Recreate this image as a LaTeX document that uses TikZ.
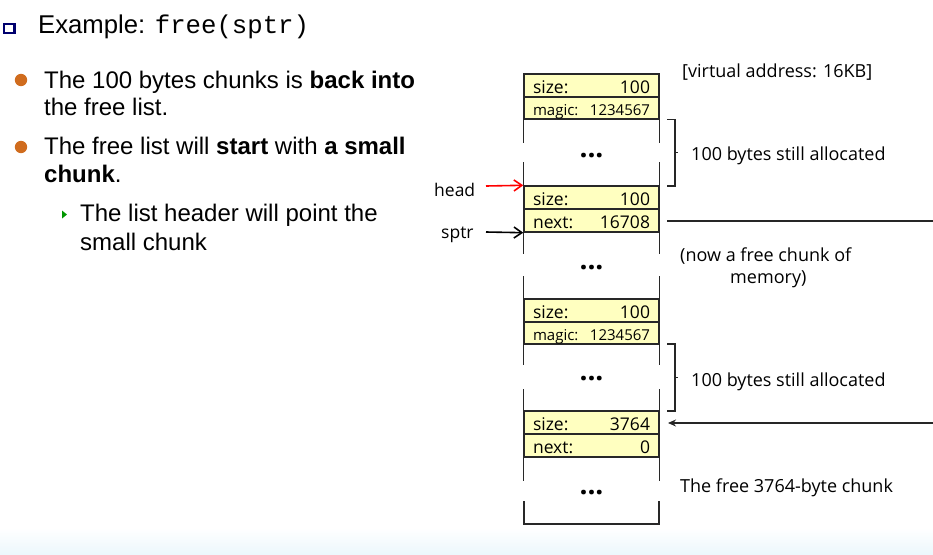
\documentclass[tikz,border=0pt]{standalone}
\usepackage{fontspec}
\setmainfont{Liberation Sans}
\setmonofont{Liberation Mono}
\newfontfamily\diagfont{Open Sans}
\usetikzlibrary{arrows.meta,shapes.geometric}
\definecolor{rowfill}{RGB}{255,255,192}
\definecolor{bulorange}{RGB}{208,108,30}
\definecolor{navysq}{RGB}{0,0,110}
\definecolor{trigreen}{RGB}{0,150,0}
\definecolor{boxline}{RGB}{40,40,40}
\definecolor{fadeblue}{RGB}{236,247,252}
\tikzset{
  x=1pt, y=-1pt,
  row/.style={draw=boxline, line width=1.4pt, fill=rowfill, minimum width=135pt,
    inner xsep=9pt, inner ysep=0pt, text width=117pt, minimum height=23pt,
    text height=16pt, text depth=1pt, font=\diagfont\fontsize{17.5}{18}\selectfont},
  magicrow/.style={row, minimum height=22pt, font=\diagfont\fontsize{15}{16}\selectfont},
  side/.style={draw=boxline, line width=1.4pt},
  brace/.style={draw=black!85, line width=1.6pt},
  note/.style={anchor=base west, inner sep=0pt, font=\diagfont\fontsize{18}{20}\selectfont},
  lbl/.style={anchor=base west, inner sep=0pt, font=\diagfont\fontsize{17.5}{18}\selectfont},
  dots/.style={anchor=base, inner sep=0pt, font=\diagfont\bfseries\fontsize{28}{30}\selectfont},
  bodytext/.style={anchor=base west, inner sep=0pt, font=\fontsize{24}{27}\selectfont},
  ptr/.style={line width=1.6pt, -{Straight Barb[length=8pt,width=11pt]}},
}
\begin{document}
\begin{tikzpicture}
\useasboundingbox (0,0) rectangle (933,554);
% faint band at the bottom
\shade[top color=white, bottom color=fadeblue] (0,528) rectangle (933,554);

% ---- left text ----
\draw[navysq, line width=2.4pt, fill=white] (4,23.8) rectangle (14.5,32.8);
\node[bodytext, font=\fontsize{25.7}{28}\selectfont] (title) at (38,33) {Example: \texttt{free(sptr)}};

\fill[bulorange] (21,80) circle (6.2pt);
\node[bodytext] (b1a) at (44,88) {The 100 bytes chunks is \textbf{back into}};
\node[bodytext] (b1b) at (44,115) {the free list.};

\fill[bulorange] (21,147) circle (6.2pt);
\node[bodytext] (b2a) at (44,154) {The free list will \textbf{start} with \textbf{a small}};
\node[bodytext] (b2b) at (44,182) {\textbf{chunk}.};

\fill[trigreen] (62,210.5) -- (67,214.5) -- (62,218.5) -- cycle;
\node[bodytext] (b3a) at (80,221.5) {The list header will point the};
\node[bodytext] (b3b) at (80,250) {small chunk};

% ---- memory rows ----
\node[row] (r1) at (591.5,85.5) {size:\hfill 100};
\node[magicrow] (r2) at (591.5,108) {magic:\hfill 1234567};
\node[row] (r3) at (591.5,197.5) {size:\hfill 100};
\node[row] (r4) at (591.5,220.5) {next:\hfill 16708};
\node[row] (r5) at (591.5,310.5) {size:\hfill 100};
\node[magicrow] (r6) at (591.5,333) {magic:\hfill 1234567};
\node[row] (r7) at (591.5,422.5) {size:\hfill 3764};
\node[row] (r8) at (591.5,445.5) {next:\hfill 0};

% side walls of the data areas (broken in the middle)
\draw[side] (r2.south west) -- ++(0,23) (r2.south east) -- ++(0,23);
\draw[side] (r3.north west) -- ++(0,-23) (r3.north east) -- ++(0,-23);
\draw[side] (r4.south west) -- ++(0,21) (r4.south east) -- ++(0,21);
\draw[side] (r5.north west) -- ++(0,-22) (r5.north east) -- ++(0,-22);
\draw[side] (r6.south west) -- ++(0,20) (r6.south east) -- ++(0,20);
\draw[side] (r7.north west) -- ++(0,-21) (r7.north east) -- ++(0,-21);
\draw[side] (r8.south west) -- ++(0,23) (r8.south east) -- ++(0,23);
\coordinate (bl) at (524,524);
\coordinate (br) at (659,524);
\draw[side] ([yshift=23pt]bl) -- (bl) -- (br) -- ([yshift=23pt]br);

% dots
\node[dots] (d1) at (591.5,157) {...};
\node[dots] (d2) at (591.5,269) {...};
\node[dots] (d3) at (591.5,380) {...};
\node[dots] (d4) at (591.5,494) {...};

% braces
\draw[brace] (667,119.5) -- (675,119.5) -- (675,186) -- (667,186) (675,152.5) -- (678,152.5);
\draw[brace] (667,344) -- (675,344) -- (675,411) -- (667,411) (675,377.5) -- (678,377.5);

% notes
\node[note] (va) at (682,77) {[virtual address: 16KB]};
\node[note] (al1) at (691,160.5) {100 bytes still allocated};
\node[note] (fr1) at (680,261.5) {(now a free chunk of};
\node[note] (fr2) at (730,283) {memory)};
\node[note] (al2) at (691,386.5) {100 bytes still allocated};
\node[note] (fr3) at (680,492.5) {The free 3764-byte chunk};

% pointers
\node[lbl] (head) at (434,196) {head};
\node[lbl] (sptr) at (441,238) {sptr};
\coordinate (hs) at (486,186);
\coordinate (ss) at (486,232);
\draw[ptr, red] (hs) -- (r3.north west);
\draw[ptr, black] (ss) -- (r4.south west);

\coordinate (nx1) at (667,221);
\coordinate (nx2) at (933,221);
\draw[line width=1.4pt, black!85] (nx1) -- (nx2);
\coordinate (in1) at (933,423);
\coordinate (in2) at (668,423);
\draw[line width=1.4pt, black!85, -{Stealth[length=8pt,width=7pt]}] (in1) -- (in2);
\end{tikzpicture}
\end{document}
